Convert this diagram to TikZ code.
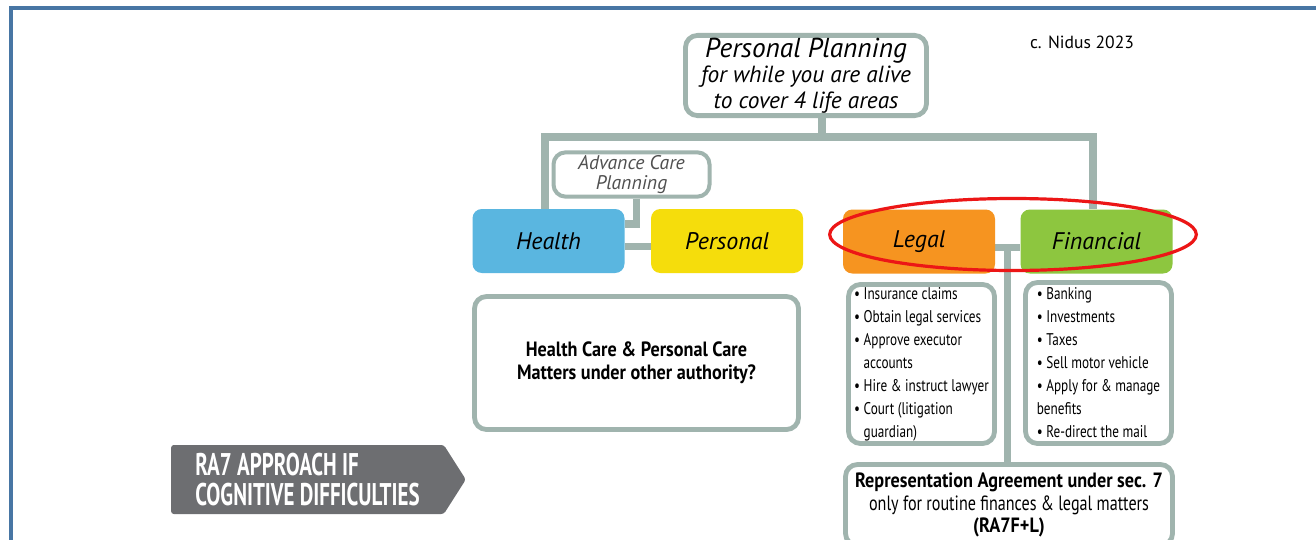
\documentclass[tikz,border=0pt]{standalone}
\usepackage{fontspec}
\setmainfont{PT Sans}
\newfontfamily\condfont{PT Sans}[FakeStretch=0.78]
\newfontfamily\boldcondfont{PT Sans}[FakeStretch=0.88]
\newfontfamily\narrowfont{PT Sans}[FakeStretch=0.67]
\usepackage{tikz}
\usetikzlibrary{positioning,shapes.geometric,shapes.symbols,backgrounds,calc}
\definecolor{boxgray}{RGB}{160,180,174}
\definecolor{healthblue}{RGB}{90,182,224}
\definecolor{personalyellow}{RGB}{245,221,12}
\definecolor{legalorange}{RGB}{246,148,32}
\definecolor{financegreen}{RGB}{141,198,63}
\definecolor{ringred}{RGB}{236,22,22}
\definecolor{taggray}{RGB}{109,110,113}
\definecolor{acpgray}{RGB}{80,80,80}
\definecolor{frameblue}{RGB}{72,118,164}
\tikzset{
  planbox/.style={draw=boxgray, line width=3.6pt, rounded corners=9pt, fill=white,
    align=center, inner sep=2pt},
  areabox/.style={rounded corners=7pt, align=center, minimum width=114pt,
    minimum height=48pt, font=\fontsize{18}{21}\selectfont\itshape},
  listbox/.style={planbox, align=left, minimum width=109.5pt,
    font=\condfont\fontsize{12.7}{17.25}\selectfont},
  link/.style={draw=boxgray, line width=6pt}
}

\begin{document}
\begin{tikzpicture}[x=0.75pt, y=-0.75pt]
        \useasboundingbox (0,0) rectangle (1316,539);
        \node[planbox, minimum width=180.75pt, minimum height=58.5pt,
          font=\itshape\fontsize{17.5}{19}\selectfont] (plan) at (806,75.5)
          {{\fontsize{20.5}{21}\selectfont Personal Planning}\\for while you are alive\\to cover 4 life areas};
        \node[font=\fontsize{13.2}{15}\selectfont] (credit) at (1082,42) {c. Nidus 2023};
        \node[planbox, line width=3pt, minimum width=117pt, minimum height=31.5pt,
          text=acpgray, font=\itshape\fontsize{14.8}{15.5}\selectfont] (acp) at (631.5,174.5)
          {Advance Care\\Planning};
        \node[areabox, fill=healthblue] (health) at (548.5,241) {Health};
        \node[areabox, fill=personalyellow, right=19.5pt of health] (personal) {Personal};
        \node[areabox, fill=legalorange] (legal) at (919,241.5) {Legal};
        \node[areabox, fill=financegreen, right=18.75pt of legal] (financial) {Financial};
        \node[ellipse, draw=ringred, line width=2.4pt, minimum width=275pt,
          minimum height=54pt] (focus) at (1013,234.5) {};
        % lists under the legal and financial areas
        \node[listbox, minimum height=119.25pt] (legallist) at (921.5,364)
          {\textbullet\ Insurance claims\\
           \textbullet\ Obtain legal services\\
           \textbullet\ Approve executor\\
           \phantom{\textbullet\ }accounts\\
           \textbullet\ Hire \& instruct lawyer\\
           \textbullet\ Court (litigation\\
           \phantom{\textbullet\ }guardian)};
        \node[listbox, minimum height=120.75pt] (finlist) at (1098.5,363)
          {\textbullet\ Banking\\
           \textbullet\ Investments\\
           \textbullet\ Taxes\\
           \textbullet\ Sell motor vehicle\\
           \textbullet\ Apply for \& manage\\
           benefits\\
           \textbullet\ Re-direct the mail};
        \node[planbox, minimum width=243pt, minimum height=99.75pt,
          font=\boldcondfont\bfseries\fontsize{15.5}{17.5}\selectfont] (hcbox) at (636.5,363)
          {Health Care \& Personal Care\\Matters under other authority?};
        \node[planbox, minimum width=245.25pt, minimum height=60.75pt,
          font=\condfont\fontsize{15.5}{17}\selectfont] (ra) at (1009,505)
          {{\boldcondfont\bfseries Representation Agreement under sec. 7}\\only for routine finances \& legal matters\\{\boldcondfont\bfseries (RA7F+L)}};
        \node[signal, signal to=east, signal pointer angle=115, fill=taggray,
          rounded corners=2pt, text=white, align=left, minimum width=221pt,
          minimum height=51.75pt, font=\narrowfont\bfseries\fontsize{23.5}{23}\selectfont]
          (ra7) at (307.5,479.5) {RA7 APPROACH IF\\COGNITIVE DIFFICULTIES};

        \begin{scope}[on background layer]
          \fill[white] (0,0) rectangle (1316,539);
          \draw[frameblue, line width=2.4pt] (11,560) -- (11,8) -- (1330,8);
          \coordinate (barL) at (545,137);
          \coordinate (barM) at (822,137);
          \coordinate (barR) at (1093,137);
          \coordinate (lfmid) at ($(legal.east)!0.5!(financial.west)+(0,6)$);
          \draw[link] (plan.south -| barM) -- (barM);
          \draw[link] (health.north -| barL) -- (barL) -- (barR) -- (financial.north -| barR);
          \draw[link, line width=5.5pt] ([xshift=3.5pt]acp.south) |- ($(health.east)+(0,-17)$);
          \draw[link, line width=5.5pt] ([yshift=-4pt]health.east) -- ([yshift=-4pt]personal.west);
          \draw[link, line width=5.5pt] (legal.east |- lfmid) -- (financial.west |- lfmid);
          \draw[link, line width=5.5pt] (lfmid) -- (ra.north -| lfmid);
        \end{scope}
    \end{tikzpicture}
\end{document}
